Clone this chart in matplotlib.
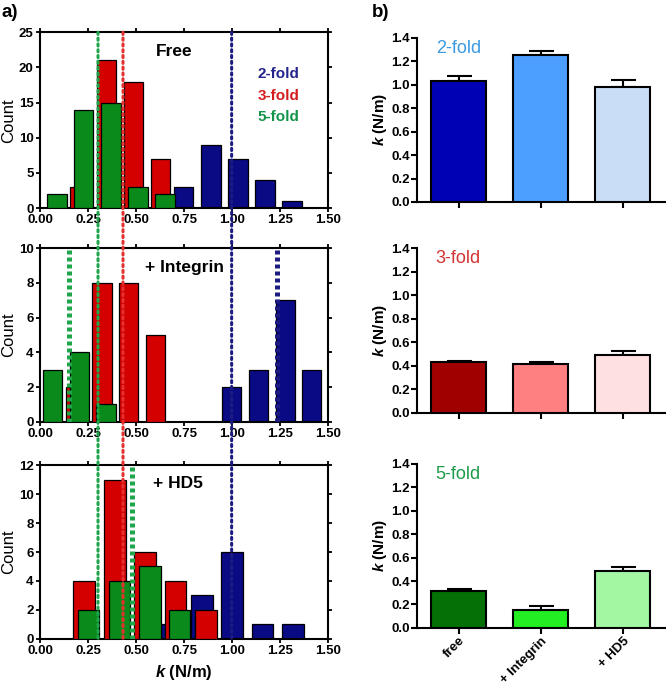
import matplotlib
matplotlib.use("Agg")
import matplotlib.pyplot as plt
from matplotlib.patches import ConnectionPatch

plt.rcParams["font.family"] = ["Liberation Sans", "DejaVu Sans"]
plt.rcParams["mathtext.fontset"] = "custom"
plt.rcParams["mathtext.it"] = "Liberation Sans:italic:bold"
plt.rcParams["mathtext.rm"] = "Liberation Sans:bold"

# ---- panel a) histograms: bin centres and counts ----
free_blue_x = [0.748, 0.890, 1.030, 1.171, 1.311]
free_blue_n = [3, 9, 7, 4, 1]
free_red_x = [0.207, 0.348, 0.488, 0.627]
free_red_n = [3, 21, 18, 7]
free_green_x = [0.089, 0.227, 0.369, 0.510, 0.650]
free_green_n = [2, 14, 15, 3, 2]

int_blue_x = [0.998, 1.138, 1.278, 1.414]
int_blue_n = [2, 3, 7, 3]
int_red_x = [0.187, 0.323, 0.462, 0.601]
int_red_n = [2, 8, 8, 5]
int_green_x = [0.067, 0.205, 0.344]
int_green_n = [3, 4, 1]

hd5_blue_x = [0.684, 0.842, 0.999, 1.158, 1.316]
hd5_blue_n = [1, 3, 6, 1, 1]
hd5_red_x = [0.229, 0.389, 0.546, 0.704, 0.863]
hd5_red_n = [4, 11, 6, 4, 2]
hd5_green_x = [0.253, 0.413, 0.571, 0.726]
hd5_green_n = [2, 4, 5, 2]

# mean k of the free capsid (dotted lines through all three histograms)
free_means = {"green": 0.302, "red": 0.432, "blue": 0.997}
# shifted means (thick dotted lines)
int_means = {"green": 0.149, "blue": 1.232}
hd5_means = {"green": 0.481}

# ---- panel b) bar charts ----
conditions = ["free", "+ Integrin", "+ HD5"]
k_2fold = [1.035, 1.251, 0.980]
err_2fold = [0.035, 0.040, 0.060]
k_3fold = [0.432, 0.415, 0.494]
err_3fold = [0.011, 0.017, 0.032]
k_5fold = [0.315, 0.153, 0.486]
err_5fold = [0.020, 0.035, 0.037]

HIST_BLUE = "#0a0a85"
HIST_RED = "#d40000"
HIST_GREEN = "#0a8a1a"
LINE_BLUE = "#1c1c80"
LINE_RED = "#e53030"
LINE_GREEN = "#1fa64a"

fig = plt.figure(figsize=(6.66, 6.87), dpi=100)

left_pos = [
    [0.060, 0.697, 0.433, 0.256],
    [0.060, 0.386, 0.433, 0.253],
    [0.060, 0.070, 0.433, 0.253],
]
hist_sets = [
    (free_blue_x, free_blue_n, free_red_x, free_red_n, free_green_x, free_green_n, 25, 5, 0.10, "Free", 0.70, 22.2),
    (int_blue_x, int_blue_n, int_red_x, int_red_n, int_green_x, int_green_n, 10, 2, 0.10, "+ Integrin", 0.75, 8.85),
    (hd5_blue_x, hd5_blue_n, hd5_red_x, hd5_red_n, hd5_green_x, hd5_green_n, 12, 2, 0.112, "+ HD5", 0.72, 10.7),
]

left_axes = []
for pos, hs in zip(left_pos, hist_sets):
    bx, bn, rx, rn, gx, gn, ymax, ystep, w, title, tx, ty = hs
    ax = fig.add_axes(pos)
    ax.bar(bx, bn, width=w, color=HIST_BLUE, edgecolor="black", linewidth=0.9, zorder=2)
    ax.bar(rx, rn, width=w, color=HIST_RED, edgecolor="black", linewidth=0.9, zorder=3)
    ax.bar(gx, gn, width=w, color=HIST_GREEN, edgecolor="black", linewidth=0.9, zorder=4)
    ax.set_xlim(0, 1.5)
    ax.set_ylim(0, ymax)
    ax.set_xticks([0, 0.25, 0.5, 0.75, 1.0, 1.25, 1.5])
    ax.set_xticklabels(["0.00", "0.25", "0.50", "0.75", "1.00", "1.25", "1.50"])
    ax.set_yticks(range(0, ymax + 1, ystep))
    ax.tick_params(direction="out", length=3, width=1.3, top=True, right=True,
                   labelsize=9.5, pad=1.5)
    for lab in ax.get_xticklabels() + ax.get_yticklabels():
        lab.set_fontweight("bold")
    for s in ax.spines.values():
        s.set_linewidth(1.5)
    ax.set_ylabel("Count", fontsize=12, labelpad=2)
    ax.text(tx, ty, title, ha="center", va="center", fontsize=12.5, fontweight="bold")
    left_axes.append(ax)

ax1, ax2, ax3 = left_axes
ax1.text(1.13, 19.0, "2-fold", color="#24248c", fontsize=11, fontweight="bold", va="center")
ax1.text(1.13, 16.0, "3-fold", color="#d41c1c", fontsize=11, fontweight="bold", va="center")
ax1.text(1.13, 12.9, "5-fold", color="#12954a", fontsize=11, fontweight="bold", va="center")
ax3.set_xlabel(r"$k$ (N/m)", fontsize=12, fontweight="bold", labelpad=4)

line_colors = {"green": LINE_GREEN, "red": LINE_RED, "blue": LINE_BLUE}
for key, xv in free_means.items():
    con = ConnectionPatch(xyA=(xv, 25), coordsA=ax1.transData,
                          xyB=(xv, 0), coordsB=ax3.transData,
                          color=line_colors[key], linestyle=(0, (0.7, 1.2)),
                          linewidth=2.2, zorder=6)
    fig.add_artist(con)

for key, xv in int_means.items():
    ax2.axvline(xv, color=line_colors[key], linestyle=(0, (0.8, 0.6)), linewidth=3.6, zorder=6)
for key, xv in hd5_means.items():
    ax3.axvline(xv, color=line_colors[key], linestyle=(0, (0.8, 0.6)), linewidth=3.6, zorder=6)

# ---- right column ----
right_pos = [
    [0.626, 0.706, 0.372, 0.239],
    [0.626, 0.399, 0.372, 0.240],
    [0.626, 0.086, 0.372, 0.239],
]
bar_sets = [
    (k_2fold, err_2fold, ["#0000b4", "#4d9fff", "#c9ddf6"], "2-fold", "#3b9ae1"),
    (k_3fold, err_3fold, ["#a00000", "#ff8080", "#ffe0e2"], "3-fold", "#d33333"),
    (k_5fold, err_5fold, ["#057005", "#22ee22", "#a3f7a3"], "5-fold", "#1c9c48"),
]

for i, (pos, bs) in enumerate(zip(right_pos, bar_sets)):
    vals, errs, cols, label, lcol = bs
    ax = fig.add_axes(pos)
    xs = range(len(conditions))
    ax.bar(xs, vals, width=0.67, color=cols, edgecolor="black", linewidth=1.5, zorder=3)
    ax.errorbar(xs, vals, yerr=[[0] * len(errs), errs], fmt="none", ecolor="black",
                elinewidth=1.5, capsize=9, capthick=1.5, zorder=2)
    ax.set_xlim(-0.51, 2.51)
    ax.set_ylim(0, 1.4)
    ax.set_yticks([0, 0.2, 0.4, 0.6, 0.8, 1.0, 1.2, 1.4])
    ax.set_yticklabels(["0.0", "0.2", "0.4", "0.6", "0.8", "1.0", "1.2", "1.4"])
    ax.set_xticks(list(xs))
    if i == 2:
        ax.set_xticklabels(conditions, rotation=45, ha="right", rotation_mode="anchor",
                           fontsize=9, fontweight="bold")
    else:
        ax.set_xticklabels([])
    ax.spines["top"].set_visible(False)
    ax.spines["right"].set_visible(False)
    ax.spines["left"].set_linewidth(1.5)
    ax.spines["bottom"].set_linewidth(1.5)
    ax.tick_params(direction="out", length=4, width=1.5, labelsize=9.5, pad=1)
    for lab in ax.get_yticklabels():
        lab.set_fontweight("bold")
    ax.set_ylabel(r"$k$ (N/m)", fontsize=11, fontweight="bold", labelpad=2)
    ax.text(-0.28, 1.31, label, color=lcol, fontsize=13, va="center")

fig.text(0.003, 0.982, "a)", fontsize=13.5, fontweight="bold", va="center")
fig.text(0.558, 0.982, "b)", fontsize=13.5, fontweight="bold", va="center")

fig.savefig("out.png", dpi=100)
